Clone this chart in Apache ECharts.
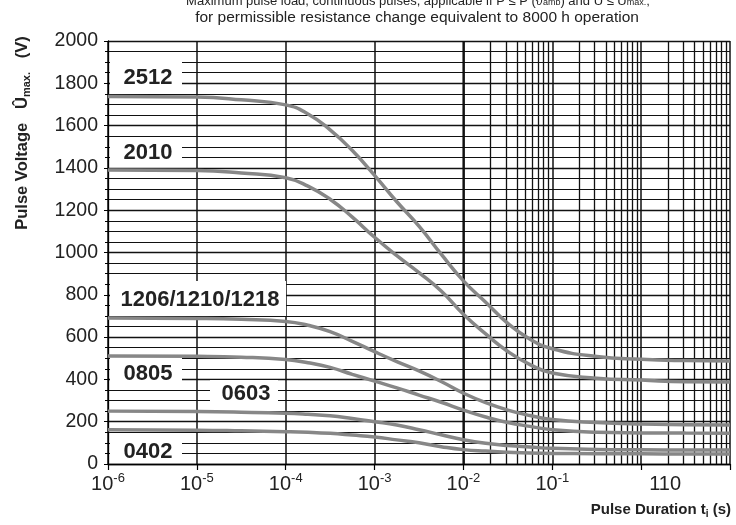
<!DOCTYPE html>
<html>
<head>
<meta charset="utf-8">
<script src="https://cdn.jsdelivr.net/npm/echarts@6/dist/echarts.min.js"></script>
<style>html,body{margin:0;padding:0;background:#fff}#c{width:736px;height:525px}</style>
</head>
<body>
<div id="c"></div>
<script>
// Pulse duration (s) sample points
const durations = [1e-6, 1e-5, 3.16e-5, 1e-4, 1.78e-4, 3.16e-4, 5.62e-4, 1e-3, 1.78e-3, 3.16e-3, 5.62e-3, 1e-2, 1.78e-2, 3.16e-2, 5.62e-2, 1e-1, 3.16e-1, 1, 3.16, 10];
// Pulse voltage (V) per size
const v2512 = [1737, 1735, 1722, 1698, 1655, 1580, 1482, 1365, 1240, 1125, 992, 866, 765, 665, 590, 545, 508, 495, 489, 487];
const v2010 = [1390, 1388, 1376, 1353, 1314, 1252, 1167, 1072, 985, 905, 818, 708, 615, 532, 470, 430, 406, 397, 389, 388];
const v1206 = [690, 688, 684, 674, 656, 626, 580, 531, 484, 440, 390, 335, 290, 255, 229, 210, 196, 189, 186, 184];
const v0805 = [511, 509, 505, 494, 479, 457, 424, 392, 360, 326, 292, 255, 222, 196, 178, 162, 150, 147, 146, 145];
const v0603 = [250, 248, 245, 240, 235, 228, 215, 200, 184, 162, 138, 115, 98, 87, 80, 74, 69, 67, 66, 66];
const v0402 = [162, 160, 157, 153, 150, 145, 137, 128, 114, 100, 82, 68, 61, 56, 52, 50, 49, 48, 47, 47];
const seriesNames = ['2512', '2010', '1206/1210/1218', '0805', '0603', '0402'];
const seriesValues = [v2512, v2010, v1206, v0805, v0603, v0402];
// Axis settings
const xMin = 1e-6, xMax = 10;
const yTicks = [0, 200, 400, 600, 800, 1000, 1200, 1400, 1600, 1800, 2000];

// log-minor grid values (2..9 per decade)
const minorX = [];
for (let d = -6; d < 1; d++) for (let k = 2; k <= 9; k++) minorX.push(k * Math.pow(10, d));

const FONT = '"Liberation Sans", Arial, sans-serif';
const GRID = '#111';
const chart = echarts.init(document.getElementById('c'), null, {renderer: 'canvas'});

const lineSeries = seriesNames.map((n, i) => ({
  name: n, type: 'line', z: 5, smooth: 0.5, symbol: 'none', silent: true,
  lineStyle: {color: '#878787', width: 3.5},
  data: durations.map((t, j) => [t, seriesValues[i][j]])
}));

const labelBoxes = [
  {t: '2512', x: 110, y: 62, w: 72, h: 30},
  {t: '2010', x: 110, y: 137, w: 72, h: 30},
  {t: '1206/1210/1218', x: 110, y: 281, w: 176, h: 35},
  {t: '0805', x: 110, y: 358, w: 72, h: 29},
  {t: '0603', x: 210, y: 380, w: 68, h: 26},
  {t: '0402', x: 110, y: 439, w: 72, h: 24}
];
const graphics = [];
labelBoxes.forEach(b => {
  graphics.push({type: 'rect', z: 3, silent: true, shape: {x: b.x, y: b.y, width: b.w, height: b.h}, style: {fill: '#fff'}});
  graphics.push({type: 'text', z: 4, silent: true, x: b.x + b.w / 2 + 2, y: b.y + b.h / 2 + 1,
    style: {text: b.t, align: 'center', verticalAlign: 'middle', fontFamily: FONT, fontWeight: 'bold', fontSize: 22, fill: '#222'}});
});
graphics.push({type: 'text', z: 4, silent: true, x: 418, y: 1,
  style: {text: 'Maximum pulse load, continuous pulses, applicable if P\u0304 \u2264 P (\u03D1{s|amb}) and \u00DB \u2264 \u00DB{s|max.};',
    align: 'center', verticalAlign: 'middle', fontFamily: FONT, fontSize: 13, fill: '#222',
    rich: {s: {fontFamily: FONT, fontSize: 9, fill: '#222', verticalAlign: 'bottom', lineHeight: 10}}}});
graphics.push({type: 'text', z: 4, silent: true, x: 417, y: 18,
  style: {text: 'for permissible resistance change equivalent to 8000 h operation',
    align: 'center', verticalAlign: 'middle', fontFamily: FONT, fontSize: 15.5, fill: '#222'}});
graphics.push({type: 'text', z: 4, silent: true, x: 22, y: 133, rotation: Math.PI / 2,
  style: {text: '{b|Pulse Voltage   \u00DB}{s|max.}{b|   (V)}', align: 'center', verticalAlign: 'middle',
    rich: {b: {fontFamily: FONT, fontWeight: 'bold', fontSize: 16.5, fill: '#222', lineHeight: 20},
           s: {fontFamily: FONT, fontWeight: 'bold', fontSize: 11, fill: '#222', lineHeight: 11, verticalAlign: 'bottom'}}}});
graphics.push({type: 'text', z: 4, silent: true, x: 731, y: 510,
  style: {text: '{b|Pulse Duration t}{s|i}{b| (s)}', align: 'right', verticalAlign: 'middle',
    rich: {b: {fontFamily: FONT, fontWeight: 'bold', fontSize: 15, fill: '#222', lineHeight: 18},
           s: {fontFamily: FONT, fontWeight: 'bold', fontSize: 10, fill: '#222', lineHeight: 10, verticalAlign: 'bottom'}}}});

chart.setOption({
  animation: false,
  backgroundColor: '#fff',
  grid: {left: 108, right: 6, top: 41, bottom: 61, containLabel: false},
  xAxis: {
    type: 'log', logBase: 10, min: xMin, max: xMax,
    axisLine: {show: true, onZero: false, lineStyle: {color: '#000', width: 1.3}},
    axisTick: {show: true, inside: false, length: 6, lineStyle: {color: '#000', width: 1.2}},
    splitLine: {show: true, lineStyle: {color: GRID, width: 1.5}},
    minorTick: {show: false}, minorSplitLine: {show: false},
    axisLabel: {
      margin: 8, color: '#222', interval: 0, showMinLabel: true, showMaxLabel: true,
      formatter: v => {
        const e = Math.round(Math.log10(v));
        if (e < 0) return '{b|10}{s|-' + Math.abs(e) + '}';
        if (e === 0) return '{c|110}';
        return '';
      },
      rich: {
        b: {fontFamily: FONT, fontSize: 20, color: '#222', lineHeight: 24},
        s: {fontFamily: FONT, fontSize: 13, color: '#222', lineHeight: 10, verticalAlign: 'top'},
        c: {fontFamily: FONT, fontSize: 20, color: '#222', lineHeight: 24, padding: [0, 0, 0, 48]}
      }
    }
  },
  yAxis: {
    type: 'value', min: yTicks[0], max: yTicks[yTicks.length - 1], interval: 200,
    axisLine: {show: true, lineStyle: {color: '#000', width: 1.3}},
    axisTick: {show: true, inside: false, length: 4, lineStyle: {color: '#000'}},
    minorTick: {show: true, splitNumber: 4, length: 3, lineStyle: {color: '#000'}},
    splitLine: {show: true, lineStyle: {color: GRID, width: 1.4}},
    minorSplitLine: {show: true, lineStyle: {color: GRID, width: 1.2}},
    axisLabel: {fontFamily: FONT, fontSize: 19.5, color: '#222', margin: 10, formatter: v => String(v)}
  },
  graphic: graphics,
  series: [{
    type: 'line', z: 1, data: [], silent: true,
    markLine: {silent: true, symbol: 'none', animation: false, label: {show: false},
      lineStyle: {color: GRID, width: 1.3, type: 'solid'},
      data: minorX.map(v => ({xAxis: v}))}
  }].concat(lineSeries)
});
</script>
</body>
</html>
